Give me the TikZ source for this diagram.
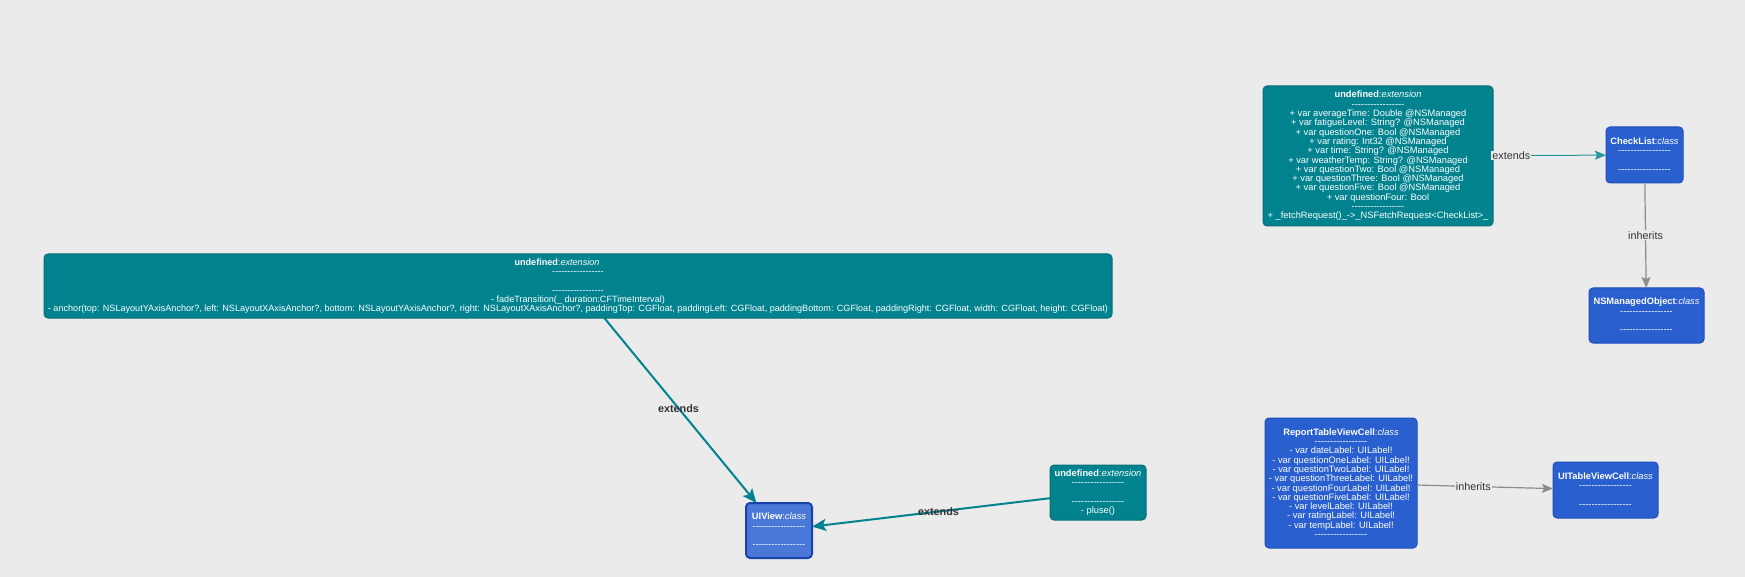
\documentclass[tikz,border=0pt]{standalone}
\usepackage{fontspec}
\newfontfamily\umlfont{Liberation Sans}
\usetikzlibrary{positioning,arrows.meta}

\definecolor{bgcol}{HTML}{EBEBEB}
\definecolor{extfill}{HTML}{00838F}
\definecolor{extline}{HTML}{0B6E77}
\definecolor{clsfill}{HTML}{2A5FCF}
\definecolor{clsline}{HTML}{1E4EBC}
\definecolor{selfill}{HTML}{4A78D8}
\definecolor{selline}{HTML}{1A43AA}
\definecolor{inhcol}{HTML}{8C8C8C}
\definecolor{lblcol}{HTML}{333333}

\newcommand{\sep}{-----------------}
\newcommand{\head}[2]{\textbf{#1}:\textit{#2}}
\newcommand{\shl}[1]{#1\hspace*{42pt}}

\tikzset{
  box/.style={rounded corners=4pt, align=center, text=white, inner sep=2pt, outer sep=0pt,
    font=\umlfont\fontsize{9.3}{9.3}\selectfont},
  ext/.style={box, draw=extline, fill=extfill, line width=1pt},
  cls/.style={box, draw=clsline, fill=clsfill, line width=1pt},
  sel/.style={box, draw=selline, fill=selfill, line width=2pt},
  extends/.style={draw=extfill, line width=2pt, -{Stealth[length=14pt,width=12pt,inset=3pt]}},
  extthin/.style={draw=extfill!85, line width=1pt, -{Stealth[length=11pt,width=9pt,inset=2pt]}},
  inherits/.style={draw=inhcol, line width=1.2pt, -{Stealth[length=11pt,width=9pt,inset=2pt]}},
  lbl/.style={text=lblcol, fill=bgcol, inner sep=1pt, font=\umlfont\fontsize{10.8}{10.8}\selectfont},
  lblb/.style={text=lblcol, inner sep=1pt, font=\umlfont\bfseries\fontsize{10.8}{10.8}\selectfont},
}

\begin{document}
\begin{tikzpicture}[x=1pt, y=-1pt]

  \path[fill=bgcol] (0,0) rectangle (1745,577);

  % UIView and its extensions
  \node[ext, minimum width=1068, minimum height=64, inner xsep=3pt,
        font=\umlfont\fontsize{9.1}{9.3}\selectfont] (bigext) at (578,286)
    {\shl{\head{undefined}{extension}}\\ \shl{\sep}\\ \mbox{}\\ \shl{\sep}\\
     \shl{- fadeTransition(\_ duration:CFTimeInterval)}\\
     - anchor(top: NSLayoutYAxisAnchor?, left: NSLayoutXAxisAnchor?, bottom: NSLayoutYAxisAnchor?, right: NSLayoutXAxisAnchor?, paddingTop: CGFloat, paddingLeft: CGFloat, paddingBottom: CGFloat, paddingRight: CGFloat, width: CGFloat, height: CGFloat)}; %
  \node[sel, minimum width=66, minimum height=55] (uiview) at (779,530.5)
    {\head{UIView}{class}\\ \sep\\ \mbox{}\\ \sep}; %
  \node[ext, minimum width=96, minimum height=55, right=238pt of uiview, yshift=38pt] (pluse)
    {\head{undefined}{extension}\\ \sep\\ \mbox{}\\ \sep\\ - pluse()}; %

  % CheckList
  \node[ext, minimum width=230, minimum height=140] (ckext) at (1378,156)
    {\head{undefined}{extension}\\ \sep\\
     + var averageTime: Double @NSManaged\\
     + var fatigueLevel: String? @NSManaged\\
     + var questionOne: Bool @NSManaged\\
     + var rating: Int32 @NSManaged\\
     + var time: String? @NSManaged\\
     + var weatherTemp: String? @NSManaged\\
     + var questionTwo: Bool @NSManaged\\
     + var questionThree: Bool @NSManaged\\
     + var questionFive: Bool @NSManaged\\
     + var questionFour: Bool\\ \sep\\
     + \_fetchRequest()\_->\_NSFetchRequest<CheckList>\_}; %
  \node[cls, minimum width=77, minimum height=56, right=113pt of ckext, yshift=1pt] (checklist)
    {\head{CheckList}{class}\\ \sep\\ \mbox{}\\ \sep}; %
  \node[cls, minimum width=115, minimum height=55, below=105pt of checklist, xshift=2pt] (nsm)
    {\head{NSManagedObject}{class}\\ \sep\\ \mbox{}\\ \sep}; %

  % ReportTableViewCell
  \node[cls, minimum width=152, minimum height=130] (report) at (1341,483)
    {\head{ReportTableViewCell}{class}\\ \sep\\
     - var dateLabel: UILabel!\\
     - var questionOneLabel: UILabel!\\
     - var questionTwoLabel: UILabel!\\
     - var questionThreeLabel: UILabel!\\
     - var questionFourLabel: UILabel!\\
     - var questionFiveLabel: UILabel!\\
     - var levelLabel: UILabel!\\
     - var ratingLabel: UILabel!\\
     - var tempLabel: UILabel!\\ \sep}; %
  \node[cls, minimum width=105, minimum height=56, right=136pt of report, yshift=-7pt] (uitable)
    {\head{UITableViewCell}{class}\\ \sep\\ \mbox{}\\ \sep}; %

  % edges
  \draw[extends] (bigext) -- (uiview);
  \path (bigext.center) -- node[lblb] {extends} (uiview.center);
  \draw[extends] (pluse) -- (uiview);
  \path (pluse.center) -- node[lblb] {extends} (uiview.center);
  \draw[extthin] (ckext) -- (checklist);
  \path (ckext.center) -- node[lbl] {extends} (checklist.center);
  \draw[inherits] (checklist) -- (nsm);
  \path (checklist.center) -- node[lbl] {inherits} (nsm.center);
  \draw[inherits] (report) -- (uitable);
  \path (report.center) -- node[lbl] {inherits} (uitable.center);

\end{tikzpicture}
\end{document}
